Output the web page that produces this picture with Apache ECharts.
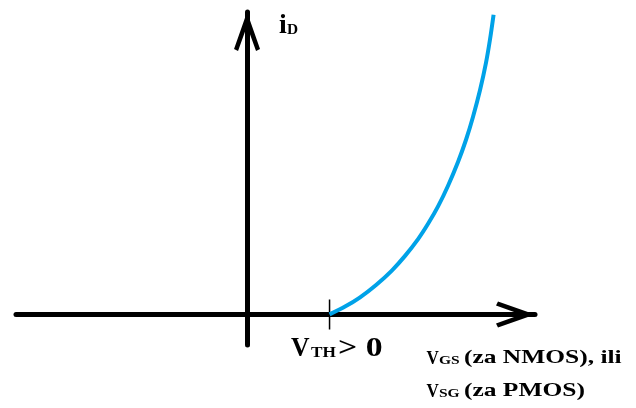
<!DOCTYPE html>
<html>
<head>
<meta charset="utf-8">
<script src="https://cdn.jsdelivr.net/npm/echarts@6/dist/echarts.min.js"></script>
<style>
  html, body { margin: 0; padding: 0; background: #fff; }
  #chart { width: 636px; height: 408px; }
</style>
</head>
<body>
<div id="chart"></div>
<script>
// Transfer characteristic of an enhancement MOSFET: drain current vs gate voltage.
// Gate voltage in units of the threshold voltage (V_TH = 1).
const vgs = [1.000, 1.188, 1.370, 1.564, 1.758, 1.915, 2.073, 2.194, 2.315, 2.436, 2.558, 2.655, 2.739, 2.824, 2.897, 2.945, 2.988];
const iD  = [0.00, 0.26, 0.57, 0.98, 1.47, 1.95, 2.51, 3.02, 3.60, 4.29, 5.09, 5.83, 6.59, 7.48, 8.40, 9.17, 9.99];

// Threshold marker on the horizontal axis
const vthTickX = [1, 1];
const vthTickY = [-0.5, 0.5];

// Visible axis ranges
const xRange = [-2.8, 3.49];
const yRange = [-1.02, 10.08];

const FONT = '"Liberation Serif", "Times New Roman", serif';
const INK = '#000';

// Open arrowhead pointing up; ECharts rotates it along each axis.
const arrowHead = 'path://M13 0L26 37L22 39L13 14L4 39L0 37Z';

function label(text, x, top, size, sx) {
  return {
    type: 'text',
    x: x, y: top,
    scaleX: sx || 1,
    silent: true,
    style: {
      text: text,
      x: 0, y: 0,
      align: 'left',
      verticalAlign: 'top',
      lineHeight: size,
      fontFamily: FONT,
      fontWeight: 'bold',
      fontSize: size,
      fill: INK
    }
  };
}
// top of a text box whose baseline should sit at b
function topFor(b, size) { return b - 0.8375 * size; }

const chart = echarts.init(document.getElementById('chart'), null, { renderer: 'canvas' });

const axisCommon = {
  type: 'value',
  axisLine: {
    show: true,
    onZero: true,
    symbol: ['none', arrowHead],
    symbolSize: [26, 39],
    symbolOffset: [0, -19.5],
    lineStyle: { color: INK, width: 5 }
  },
  axisTick: { show: false },
  axisLabel: { show: false },
  splitLine: { show: false }
};

chart.setOption({
  animation: false,
  backgroundColor: '#fff',
  grid: { left: 16, right: 101, top: 12, bottom: 63, containLabel: false, outerBoundsMode: 'none' },
  xAxis: Object.assign({}, axisCommon, { min: xRange[0], max: xRange[1] }),
  yAxis: Object.assign({}, axisCommon, { min: yRange[0], max: yRange[1] }),
  series: [
    {
      type: 'line',
      data: vthTickX.map((x, i) => [x, vthTickY[i]]),
      symbol: 'none',
      lineStyle: { color: INK, width: 1.5 },
      z: 2
    },
    {
      type: 'line',
      data: vgs.map((x, i) => [x, iD[i]]),
      smooth: 0.3,
      symbol: 'none',
      lineStyle: { color: '#00A2E8', width: 4 },
      z: 3
    }
  ],
  graphic: [
    // i_D
    label('i', 279, topFor(35, 28), 28),
    label('D', 287, topFor(35, 14), 14, 1.1),
    // V_TH > 0
    label('V', 291, topFor(358, 27), 27, 0.95),
    label('TH', 311, topFor(358, 15), 15, 1.15),
    label('> 0', 338, topFor(358, 27), 27, 1.25),
    // v_GS (za NMOS), ili
    label('V', 426.5, topFor(365, 18.5), 18.5, 0.92),
    label('GS', 439, topFor(365, 12.5), 12.5, 1.24),
    label('(za NMOS), ili', 464, topFor(365, 19), 19, 1.34),
    // v_SG (za PMOS)
    label('V', 426.5, topFor(398, 18.5), 18.5, 0.92),
    label('SG', 439, topFor(398, 12.5), 12.5, 1.24),
    label('(za PMOS)', 464, topFor(398, 19), 19, 1.34)
  ]
});
</script>
</body>
</html>
